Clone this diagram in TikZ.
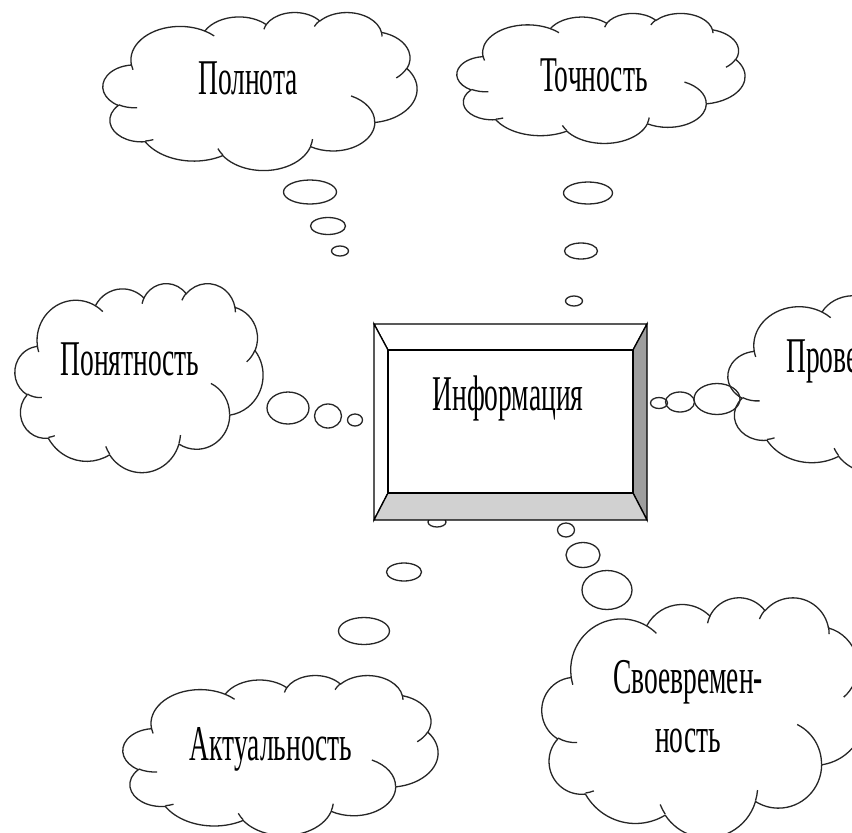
\documentclass[tikz,border=0pt]{standalone}
\usepackage{fontspec}
\usetikzlibrary{shapes.geometric}
\newfontfamily\cf[FakeStretch=0.55]{Liberation Serif}
\newcommand\oarc[4]{\pgfextra{%
  \pgfmathparse{atan2((#1)*sin(#3),(#2)*cos(#3))}\xdef\oaS{\pgfmathresult}%
  \pgfmathparse{atan2((#1)*sin(#3+#4),(#2)*cos(#3+#4))}\xdef\oaE{\pgfmathresult}%
  \pgfmathparse{\oaE+360*round((\oaS+#4-\oaE)/360)}\xdef\oaE{\pgfmathresult}}%
  arc[start angle=\oaS, end angle=\oaE, x radius=#1, y radius=#2]}
\newcommand\wcloud[4]{%
  \pgfmathsetmacro\cwx{#3/432}\pgfmathsetmacro\chy{#4/432}%
  \begin{scope}[shift={(#1,#2)}, x=1pt, y=1pt, xscale=\cwx, yscale=-\chy]
    \draw[cloudline, fill=white] (39.00,143.70)
      \oarc{67.53}{91.90}{-190.48748}{123.78053}
      \oarc{53.33}{72.67}{-144.10238}{89.94523}
      \oarc{43.65}{59.45}{-145.80792}{99.72302}
      \oarc{48.57}{65.95}{-130.98607}{117.24173}
      \oarc{53.33}{72.73}{-78.70888}{109.02692}
      \oarc{67.75}{92.20}{-46.26725}{130.269}
      \oarc{57.85}{78.67}{0.62502}{114.03333}
      \oarc{67.52}{92.15}{22.4516}{115.17255}
      \oarc{77.20}{105.43}{66.24263}{75.71102}
      \oarc{43.60}{59.18}{-274.94208}{146.73557}
      \oarc{43.45}{59.45}{-246.8285}{152.51885}
      -- cycle;
    \draw[cloudline]
      (46.93,261.77) \oarc{43.45}{59.45}{86.742}{26.4295}
      (69.28,348.99) \oarc{43.60}{59.18}{73.6105}{11.4475}
      (164.78,390.90) \oarc{67.52}{92.15}{137.62415}{14.0811}
      (288.27,347.51) \oarc{67.52}{92.15}{6.45327}{15.99835}
      (341.29,229.54) \oarc{57.85}{78.67}{-70.29235}{70.91737}
      (417.98,153.54) \oarc{53.33}{72.73}{30.31803}{27.7515}
      (383.24,54.26) \oarc{48.57}{65.95}{-13.74433}{14.86037}
      (290.78,39.52) \oarc{48.57}{65.95}{-149.18145}{18.19537}
      (221.41,47.20) \oarc{43.65}{59.45}{-163.49427}{17.68635}
      (140.00,51.92) \oarc{67.53}{91.90}{-66.70695}{12.31935}
      (41.27,157.89) \oarc{67.53}{91.90}{157.65435}{11.85817};
  \end{scope}}
\tikzset{
  cloudline/.style={line width=1.3pt, draw=black!85, line join=round},
  bub/.style={ellipse, draw=black!85, line width=1.3pt, inner sep=0pt},
  lbl/.style={font=\cf\fontsize{50}{59}\selectfont, inner sep=0pt, text=black},
  bevel/.style={draw=black, line width=1.3pt, line join=miter}
}
\begin{document}
\begin{tikzpicture}[x=1pt, y=-1pt]
\useasboundingbox (0,0) rectangle (852,833);
\fill[white] (0,0) rectangle (852,833);
\clip (0,0) rectangle (852,833);
% clouds
\wcloud{103}{12}{314}{158}
\wcloud{457}{13}{288}{130}
\wcloud{15}{283}{248}{189}
\wcloud{728}{290}{290}{183}
\wcloud{123}{675}{315}{160}
\wcloud{542}{597}{323}{240}
% bubbles
\node[bub, minimum width=53, minimum height=24] (pa) at (310,192) {};
\node[bub, minimum width=35, minimum height=17] (pb) at (328,226) {};
\node[bub, minimum width=17, minimum height=10] (pc) at (340,251) {};
\node[bub, minimum width=49, minimum height=22] (ta) at (588,193) {};
\node[bub, minimum width=33, minimum height=16] (tb) at (581,251) {};
\node[bub, minimum width=17, minimum height=10] (tc) at (574,301) {};
\node[bub, minimum width=42, minimum height=32] (na) at (288,408) {};
\node[bub, minimum width=27, minimum height=24] (nb) at (328,416) {};
\node[bub, minimum width=15, minimum height=12] (nc) at (355,420) {};
\node[bub, minimum width=46, minimum height=31] (ra) at (717,399) {};
\node[bub, minimum width=29, minimum height=20] (rb) at (680,402) {};
\node[bub, minimum width=17, minimum height=11] (rc) at (659,403) {};
\node[bub, minimum width=18, minimum height=10] (aa) at (437,522) {};
\node[bub, minimum width=35, minimum height=18] (ab) at (404,572) {};
\node[bub, minimum width=51, minimum height=27] (ac) at (364,631) {};
\node[bub, minimum width=17, minimum height=14] (sa) at (566,530) {};
\node[bub, minimum width=34, minimum height=25] (sb) at (583,555) {};
\node[bub, minimum width=50, minimum height=39] (sc) at (607,590) {};
% central bevelled box
\coordinate (o1) at (374,324); \coordinate (o2) at (647,324);
\coordinate (o3) at (647,520); \coordinate (o4) at (374,520);
\coordinate (i1) at (388,350); \coordinate (i2) at (633,350);
\coordinate (i3) at (633,493); \coordinate (i4) at (388,493);
\filldraw[bevel, fill=white] (o1) -- (o2) -- (i2) -- (i1) -- cycle;
\filldraw[bevel, fill=white] (o1) -- (i1) -- (i4) -- (o4) -- cycle;
\filldraw[bevel, fill=black!38] (o2) -- (o3) -- (i3) -- (i2) -- cycle;
\filldraw[bevel, fill=black!18] (o4) -- (i4) -- (i3) -- (o3) -- cycle;
\filldraw[bevel, fill=white] (i1) rectangle (i3);
% labels
\node[lbl, anchor=base] (t1) at (248,94) {Полнота};
\node[lbl, anchor=base] (t2) at (594,91) {Точность};
\node[lbl, anchor=base] (t3) at (130,375) {Понятность};
\node[lbl, anchor=base] (t0) at (508,410) {Информация};
\node[lbl, anchor=base west] (t4) at (786,372) {Прове};
\node[lbl, anchor=base] (t5) at (271,760) {Актуальность};
\node[lbl, anchor=base, align=center] (t6) at (688,752) {Своевремен-\\ность};
\end{tikzpicture}
\end{document}
